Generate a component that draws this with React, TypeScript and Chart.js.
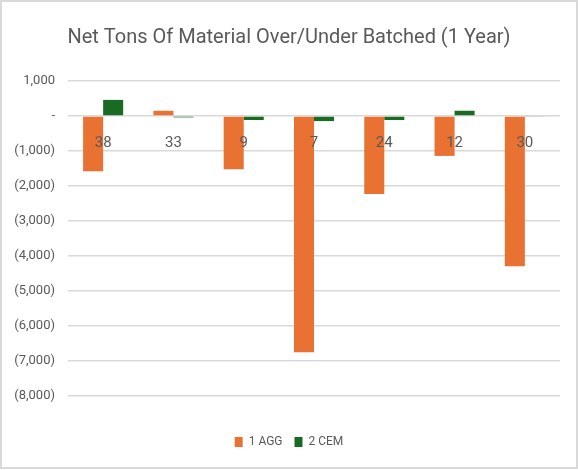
import { useEffect, useRef } from 'react';
import { Chart, registerables } from 'chart.js';

Chart.register(...registerables);

// sample numbers
const categories = ['38', '33', '9', '7', '24', '12', '30'];
const aggTons = [-1580, 150, -1520, -6750, -2230, -1140, -4290];
const cemTons = [460, -40, -115, -145, -115, 150, -25];

const TEXT = '#595959';
const FONT = '"Roboto", sans-serif';

function fmt(v: number) {
  if (v === 0) return '-';
  const s = Math.abs(v).toLocaleString('en-US');
  return v < 0 ? `(${s})` : s;
}

// thin grey frame round the whole picture, like the Excel chart box
const frame = {
  id: 'frame',
  beforeDraw(chart: Chart) {
    const { ctx, width, height } = chart;
    ctx.save();
    ctx.fillStyle = '#ffffff';
    ctx.fillRect(0, 0, width, height);
    ctx.strokeStyle = '#d9d9d9';
    ctx.lineWidth = 2;
    ctx.strokeRect(1, 1, width - 2, height - 3);
    ctx.restore();
  },
};

export default function App() {
  const canvasRef = useRef<HTMLCanvasElement | null>(null);
  const chartRef = useRef<Chart | null>(null);

  useEffect(() => {
    document.body.style.margin = '0';
    const ctx = canvasRef.current?.getContext('2d');
    if (!ctx) return;

    if (chartRef.current) {
      chartRef.current.destroy();
    }

    chartRef.current = new Chart(ctx, {
      type: 'bar',
      data: {
        labels: categories,
        datasets: [
          {
            label: '1 AGG',
            data: aggTons,
            backgroundColor: '#E97132',
            categoryPercentage: 0.57,
            barPercentage: 1,
          },
          {
            label: '2 CEM',
            data: cemTons,
            backgroundColor: '#196B24',
            categoryPercentage: 0.57,
            barPercentage: 1,
          },
        ],
      },
      options: {
        animation: false,
        responsive: false,
        layout: { padding: { left: 10, right: 10, top: 0, bottom: 12 } },
        plugins: {
          title: {
            display: true,
            text: 'Net Tons Of Material Over/Under Batched (1 Year)',
            color: TEXT,
            font: { family: FONT, size: 20, weight: 'normal' },
            padding: { top: 26, bottom: 31 },
          },
          legend: {
            position: 'bottom',
            labels: {
              color: TEXT,
              font: { family: FONT, size: 12 },
              boxWidth: 8,
              boxHeight: 10,
              padding: 12,
            },
          },
          tooltip: { enabled: false },
        },
        scales: {
          x: {
            position: { y: 0 },
            grid: { display: false },
            border: { display: false },
            ticks: {
              z: 1,
              color: TEXT,
              font: { family: FONT, size: 15 },
              padding: 10,
            },
          },
          // empty axis, only keeps the gap between plot and legend
          xGap: {
            type: 'category',
            position: 'bottom',
            grid: { display: false },
            border: { display: false },
            ticks: { display: false },
            afterFit: (scale: any) => {
              scale.height = 28;
            },
          },
          y: {
            min: -8000,
            max: 1000,
            afterFit: (scale: any) => {
              scale.width = 58;
            },
            ticks: {
              stepSize: 1000,
              color: TEXT,
              font: { family: FONT, size: 13 },
              padding: 13,
              callback: (v: any) => fmt(Number(v)),
            },
            grid: { color: '#d9d9d9', lineWidth: 1.5, drawTicks: false },
            border: { display: false },
          },
          // empty axis on the right, only a small margin
          yGap: {
            type: 'linear',
            position: 'right',
            grid: { display: false },
            border: { display: false },
            ticks: { display: false },
            afterFit: (scale: any) => {
              scale.width = 8;
            },
          },
        },
      },
      plugins: [frame],
    });

    return () => {
      if (chartRef.current) {
        chartRef.current.destroy();
        chartRef.current = null;
      }
    };
  }, []);

  return <canvas ref={canvasRef} width={578} height={470} style={{ display: 'block' }} />;
}
